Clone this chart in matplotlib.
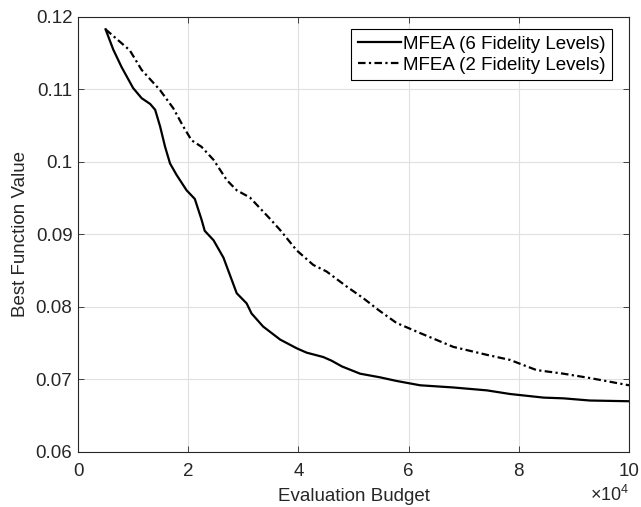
import matplotlib
matplotlib.use("Agg")
import matplotlib.pyplot as plt

plt.rcParams['font.family'] = ['Liberation Sans', 'DejaVu Sans']
plt.rcParams['mathtext.fontset'] = 'custom'
plt.rcParams['mathtext.rm'] = 'Liberation Sans'

# Evaluation budget (units of 1e4) and best objective value for each run
budget_6 = [0.5, 0.64, 0.79, 1.00, 1.155, 1.31, 1.40, 1.49, 1.58, 1.67, 1.79,
            1.97, 2.12, 2.24, 2.30, 2.46, 2.64, 2.88, 3.06, 3.15, 3.36, 3.67,
            3.97, 4.15, 4.45, 4.60, 4.79, 5.12, 5.48, 5.78, 6.21, 6.81, 7.42,
            7.84, 8.45, 8.81, 9.29, 10.0]
value_6 = [0.1183, 0.1155, 0.1131, 0.1102, 0.1088, 0.1080, 0.1072, 0.1049,
           0.1021, 0.0998, 0.0982, 0.0961, 0.0949, 0.0921, 0.0905, 0.0892,
           0.0868, 0.0819, 0.0805, 0.0791, 0.0773, 0.0755, 0.0743, 0.0737,
           0.0731, 0.0726, 0.0718, 0.0708, 0.0703, 0.0698, 0.0692, 0.0689,
           0.0685, 0.0680, 0.0675, 0.0674, 0.0671, 0.0670]

budget_2 = [0.5, 0.94, 1.155, 1.49, 1.73, 1.91, 2.06, 2.24, 2.46, 2.70, 2.88,
            3.12, 3.48, 3.67, 3.97, 4.27, 4.51, 4.88, 5.18, 5.45, 5.78, 6.21,
            6.81, 7.42, 7.84, 8.32, 8.81, 9.29, 10.0]
value_2 = [0.1183, 0.1154, 0.1127, 0.1099, 0.1074, 0.1049, 0.1030, 0.1021,
           0.1003, 0.0975, 0.0961, 0.0951, 0.0922, 0.0906, 0.0878, 0.0858,
           0.0849, 0.0828, 0.0812, 0.0796, 0.0778, 0.0764, 0.0745, 0.0734,
           0.0727, 0.0713, 0.0708, 0.0702, 0.0692]

x_ticks = [0, 2, 4, 6, 8, 10]
y_ticks = [0.06, 0.07, 0.08, 0.09, 0.1, 0.11, 0.12]
y_tick_labels = ['0.06', '0.07', '0.08', '0.09', '0.1', '0.11', '0.12']

fig = plt.figure(figsize=(6.41, 5.07), dpi=100)
ax = fig.add_axes([0.1217, 0.1085, 0.8596, 0.858])

ink = '#262626'
ax.plot(budget_6, value_6, color='black', lw=1.6, ls='-',
        solid_joinstyle='round', label='MFEA (6 Fidelity Levels)')
ax.plot(budget_2, value_2, color='black', lw=1.6, ls=(0, (3.4, 1.5, 1, 1.5)),
        dash_joinstyle='round', label='MFEA (2 Fidelity Levels)')

ax.set_xlim(0, 10)
ax.set_ylim(0.06, 0.12)
ax.set_xticks(x_ticks)
ax.set_xticklabels([str(t) for t in x_ticks])
ax.set_yticks(y_ticks)
ax.set_yticklabels(y_tick_labels)

ax.grid(True, color='#e0e0e0', lw=0.8)
ax.set_axisbelow(True)
ax.tick_params(direction='in', top=True, right=True, length=4, width=0.6,
               colors=ink, labelsize=13.5, labelcolor=ink)
ax.tick_params(axis='x', pad=8)
ax.tick_params(axis='y', pad=4)
for s in ax.spines.values():
    s.set_color(ink)
    s.set_linewidth(0.8)

ax.set_xlabel('Evaluation Budget', fontsize=13.5, color=ink, labelpad=6)
ax.set_ylabel('Best Function Value', fontsize=13.5, color=ink, labelpad=5)
ax.text(1.0, -0.076, r'$\times\mathregular{10^4}$', transform=ax.transAxes,
        ha='right', va='top', fontsize=13, color=ink)

leg = ax.legend(loc='upper right', bbox_to_anchor=(0.969, 0.972),
                fontsize=13.5, frameon=True, fancybox=False,
                edgecolor='black', framealpha=1, handlelength=2.3,
                handletextpad=0.1, borderpad=0.35, labelspacing=0.2,
                borderaxespad=0.0)
leg.get_frame().set_linewidth(0.8)

fig.savefig('out.png', dpi=100)
